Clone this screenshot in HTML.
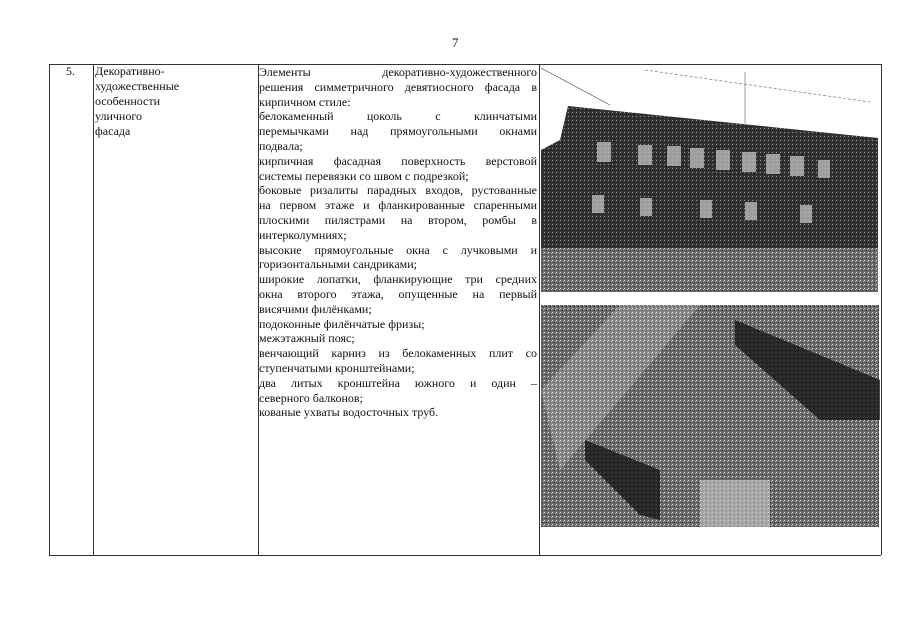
<!DOCTYPE html>
<html><head><meta charset="utf-8"><style>
body{margin:0;background:#fff;width:905px;height:640px;position:relative;overflow:hidden;font-family:"Liberation Serif","DejaVu Serif",serif;color:#111}
.l{position:absolute;left:259px;width:278px;font-size:12px;line-height:14.8px;white-space:nowrap}
.j{text-align:justify;text-align-last:justify}
.c2{position:absolute;left:95px;font-size:12px;line-height:15px}
.v{position:absolute;background:#333;width:1px;top:64px;height:491px}
.h{position:absolute;background:#333;height:1px;left:49px;width:832px}
</style></head><body>
<div style="position:absolute;left:452px;top:35px;font-size:13px">7</div>
<div class="h" style="top:64px"></div>
<div class="h" style="top:555px"></div>
<div class="v" style="left:49px"></div>
<div class="v" style="left:93px"></div>
<div class="v" style="left:258px"></div>
<div class="v" style="left:539px"></div>
<div class="v" style="left:881px"></div>
<div style="position:absolute;left:66px;top:64px;font-size:12px;line-height:15px">5.</div>
<div class="c2" style="top:64px">Декоративно-<br>художественные<br>особенности<br>уличного<br>фасада</div>
<div style="position:absolute;left:0;top:65px">
<div class="l j" style="top:0px">Элементы декоративно-художественного</div>
<div class="l j" style="top:14.8px">решения симметричного девятиосного фасада в</div>
<div class="l" style="top:29.6px">кирпичном стиле:</div>
<div class="l j" style="top:44.4px">белокаменный цоколь с клинчатыми</div>
<div class="l j" style="top:59.2px">перемычками над прямоугольными окнами</div>
<div class="l" style="top:74px">подвала;</div>
<div class="l j" style="top:88.8px">кирпичная фасадная поверхность верстовой</div>
<div class="l" style="top:103.6px">системы перевязки со швом с подрезкой;</div>
<div class="l j" style="top:118.4px">боковые ризалиты парадных входов, рустованные</div>
<div class="l j" style="top:133.2px">на первом этаже и фланкированные спаренными</div>
<div class="l j" style="top:148px">плоскими пилястрами на втором, ромбы в</div>
<div class="l" style="top:162.8px">интерколумниях;</div>
<div class="l j" style="top:177.6px">высокие прямоугольные окна с лучковыми и</div>
<div class="l" style="top:192.4px">горизонтальными сандриками;</div>
<div class="l j" style="top:207.2px">широкие лопатки, фланкирующие три средних</div>
<div class="l j" style="top:222px">окна второго этажа, опущенные на первый</div>
<div class="l" style="top:236.8px">висячими филёнками;</div>
<div class="l" style="top:251.6px">подоконные филёнчатые фризы;</div>
<div class="l" style="top:266.4px">межэтажный пояс;</div>
<div class="l j" style="top:281.2px">венчающий карниз из белокаменных плит со</div>
<div class="l" style="top:296px">ступенчатыми кронштейнами;</div>
<div class="l j" style="top:310.8px">два литых кронштейна южного и один –</div>
<div class="l" style="top:325.6px">северного балконов;</div>
<div class="l" style="top:340.4px">кованые ухваты водосточных труб.</div>
</div>
<svg style="position:absolute;left:0;top:0" width="905" height="640">
<defs>
<pattern id="n" width="4" height="4" patternUnits="userSpaceOnUse"><rect width="4" height="4" fill="#6a6a6a"/><rect width="1" height="1" fill="#ddd"/><rect x="2" y="2" width="1" height="1" fill="#222"/><rect x="3" y="1" width="1" height="1" fill="#bbb"/></pattern>
<pattern id="d" width="4" height="4" patternUnits="userSpaceOnUse"><rect width="4" height="4" fill="#333"/><rect width="1" height="1" fill="#999"/><rect x="2" y="2" width="1" height="1" fill="#111"/></pattern>
</defs>
<line x1="541" y1="68" x2="610" y2="105" stroke="#444" stroke-width="0.7"/>
<line x1="645" y1="70" x2="870" y2="102" stroke="#777" stroke-width="0.7" stroke-dasharray="3 2"/>
<line x1="745" y1="72" x2="745" y2="125" stroke="#777" stroke-width="0.7"/>
<polygon points="541,150 560,140 568,106 878,138 878,248 541,248" fill="url(#d)"/>
<polygon points="541,248 878,248 878,292 541,292" fill="url(#n)"/>
<g fill="#bbb" opacity="0.8">
<rect x="597" y="142" width="14" height="20"/><rect x="638" y="145" width="14" height="20"/><rect x="667" y="146" width="14" height="20"/>
<rect x="690" y="148" width="14" height="20"/><rect x="716" y="150" width="14" height="20"/><rect x="742" y="152" width="14" height="20"/>
<rect x="766" y="154" width="14" height="20"/><rect x="790" y="156" width="14" height="20"/><rect x="818" y="160" width="12" height="18"/>
<rect x="592" y="195" width="12" height="18"/><rect x="640" y="198" width="12" height="18"/><rect x="700" y="200" width="12" height="18"/><rect x="745" y="202" width="12" height="18"/><rect x="800" y="205" width="12" height="18"/>
</g>
<rect x="541" y="305" width="338" height="222" fill="url(#n)"/>
<polygon points="541,390 620,305 700,305 560,470" fill="#fff" opacity="0.2"/>
<polygon points="735,320 880,380 880,420 820,420 735,345" fill="#111" opacity="0.75"/>
<polygon points="585,440 660,470 660,520 640,515 585,460" fill="#111" opacity="0.75"/>
<polygon points="700,480 770,480 770,527 700,527" fill="#ccc" opacity="0.6"/>
</svg>
</body></html>
